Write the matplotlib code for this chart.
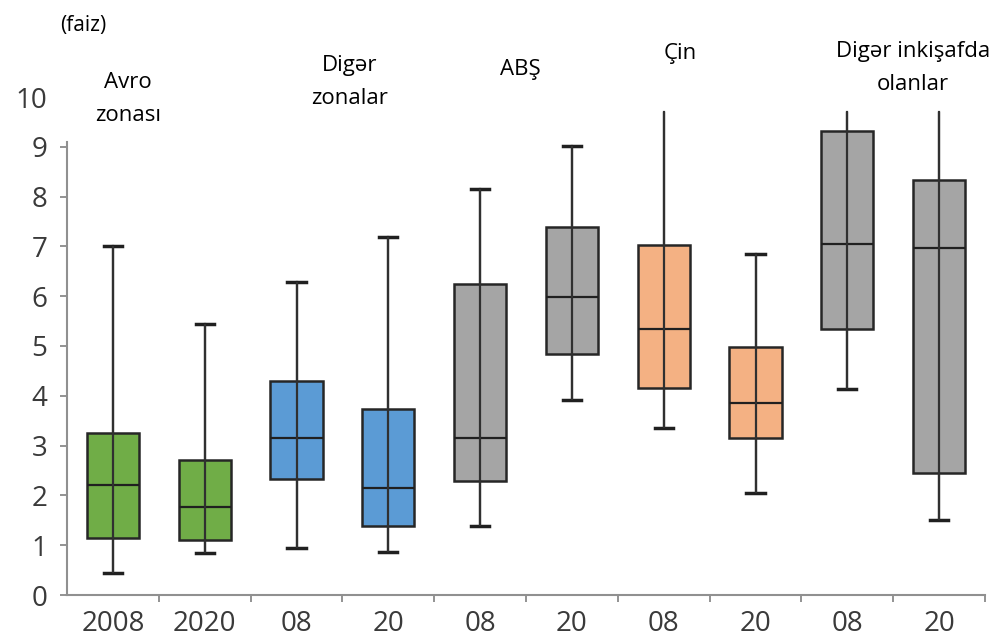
import matplotlib
matplotlib.use('Agg')
import matplotlib.pyplot as plt

plt.rcParams['font.family'] = ['Open Sans', 'DejaVu Sans']

# box stats (faiz)
labels = ['2008', '2020', '08', '20', '08', '20', '08', '20', '08', '20']
lo  = [0.45, 0.84, 0.94, 0.86, 1.39, 3.92, 3.35, 2.05, 4.14, 1.51]
q1  = [1.14, 1.11, 2.32, 1.39, 2.29, 4.83, 4.16, 3.15, 5.35, 2.44]
med = [2.21, 1.76, 3.15, 2.14, 3.15, 5.99, 5.35, 3.86, 7.04, 6.96]
q3  = [3.25, 2.72, 4.30, 3.73, 6.24, 7.39, 7.03, 4.98, 9.32, 8.33]
hi  = [7.00, 5.44, 6.29, 7.19, 8.15, 9.02, 9.69, 6.85, 9.69, 9.69]
colors = ['#70AD47', '#70AD47', '#5B9BD5', '#5B9BD5', '#A5A5A5', '#A5A5A5',
          '#F4B183', '#F4B183', '#A5A5A5', '#A5A5A5']
groups = ['Avro\nzonası', 'Digər\nzonalar', 'ABŞ', 'Çin', 'Digər inkişafda\nolanlar']

W, H = 995, 641
fig = plt.figure(figsize=(W / 100, H / 100), dpi=100)
ax = fig.add_axes([67 / W, 1 - 595 / H, 918 / W, 498 / H])

stats = []
for i in range(len(labels)):
    stats.append({'whislo': lo[i], 'q1': q1[i], 'med': med[i], 'q3': q3[i],
                  'whishi': hi[i], 'label': labels[i]})

pos = list(range(1, len(labels) + 1))
bp = ax.bxp(stats, positions=pos, widths=0.57, showfliers=False, patch_artist=True,
            boxprops=dict(edgecolor='#262626', linewidth=1.8),
            medianprops=dict(color='#202020', linewidth=1.6),
            whiskerprops=dict(color='#303030', linewidth=1.6),
            capprops=dict(color='#202020', linewidth=2.5), capwidths=0.2)
for patch, c in zip(bp['boxes'], colors):
    patch.set_facecolor(c)
    patch.set_zorder(2)
for m in bp['medians']:
    m.set_zorder(3)
# whisker line runs straight through the box
ax.vlines(pos, lo, hi, color='#303030', linewidth=1.6, zorder=3)
# whiskers that run off the top have no cap
for i, v in enumerate(hi):
    if v > 9.5:
        bp['caps'][2 * i + 1].set_visible(False)

ax.set_xlim(0.5, len(labels) + 0.5)
ax.set_ylim(0, 10)
ax.set_yticks(range(0, 11))
ax.tick_params(axis='y', labelsize=20, labelcolor='#3a3a3a', color='#808080',
               length=5, width=1.2, pad=9)
ax.yaxis.get_major_ticks()[-1].tick1line.set_visible(False)
ax.set_xticks(pos)
ax.set_xticklabels(labels)
ax.set_xticks([p + 0.5 for p in pos], minor=True)
ax.tick_params(axis='x', which='major', length=0, labelsize=20, labelcolor='#3a3a3a', pad=11)
ax.tick_params(axis='x', which='minor', length=5, color='#808080', width=1.2)

for s in ['top', 'right']:
    ax.spines[s].set_visible(False)
ax.spines['left'].set_bounds(0, 9.1)
ax.spines['left'].set_color('#909090')
ax.spines['left'].set_linewidth(1.5)
ax.spines['bottom'].set_color('#909090')
ax.spines['bottom'].set_linewidth(1.5)

fig.text(60 / W, 1 - 26 / H, '(faiz)', fontsize=15, ha='left', va='center')
gx = [128, 350, 520, 680, 913]
gy = [99, 82, 70, 53, 68]
for t, x, y in zip(groups, gx, gy):
    fig.text(x / W, 1 - y / H, t, fontsize=16, ha='center', va='center', linespacing=1.7)

fig.savefig('out.png', dpi=100)
